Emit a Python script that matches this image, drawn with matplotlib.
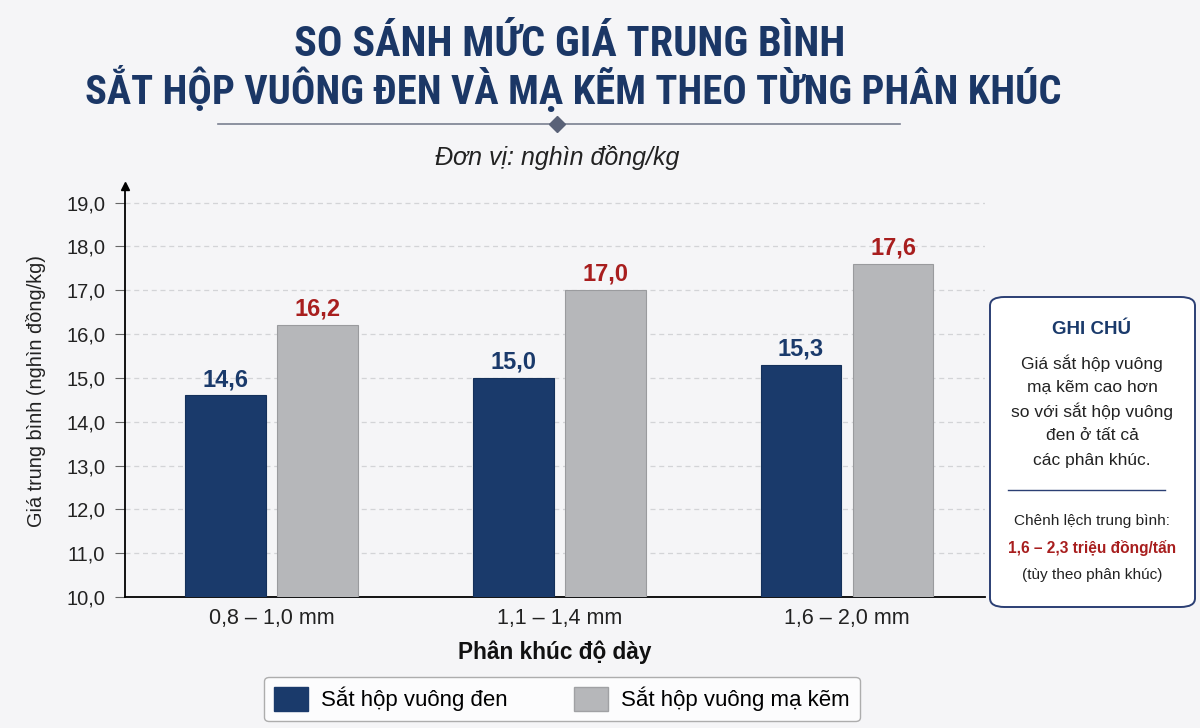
import numpy as np
import matplotlib.pyplot as plt
from matplotlib.patches import FancyBboxPatch, Patch
from matplotlib.lines import Line2D

# du lieu
categories = ['0,8 – 1,0 mm', '1,1 – 1,4 mm', '1,6 – 2,0 mm']
den_values = [14.6, 15.0, 15.3]
makem_values = [16.2, 17.0, 17.6]
yticks = [10, 11, 12, 13, 14, 15, 16, 17, 18, 19]
series_names = ['Sắt hộp vuông đen', 'Sắt hộp vuông mạ kẽm']

navy = '#1a3a6b'
grey = '#b6b7ba'
red = '#a81e1e'
bg = '#f5f5f7'

plt.rcParams['font.family'] = ['Liberation Sans', 'DejaVu Sans']
title_font = ['Roboto Condensed', 'Liberation Sans', 'DejaVu Sans']

fig = plt.figure(figsize=(12, 7.28), dpi=100, facecolor=bg)
ax = fig.add_axes([0.104, 0.18, 0.717, 0.5645], facecolor=bg)

x = np.arange(len(categories))
w = 0.28
off = 0.16
ax.bar(x - off, den_values, w, color=navy, edgecolor='#14305a', linewidth=0.8, zorder=3)
ax.bar(x + off, makem_values, w, color=grey, edgecolor='#9a9b9e', linewidth=0.8, zorder=3)

for xi, v in zip(x, den_values):
    ax.text(xi - off, v + 0.1, f'{v:.1f}'.replace('.', ','), ha='center', va='bottom',
            fontsize=17, fontweight='bold', color=navy)
for xi, v in zip(x, makem_values):
    ax.text(xi + off, v + 0.1, f'{v:.1f}'.replace('.', ','), ha='center', va='bottom',
            fontsize=17, fontweight='bold', color=red)

ax.set_xlim(-0.51, 2.48)
ax.set_ylim(10, 19.38)
ax.set_yticks(yticks)
ax.set_yticklabels([f'{t:.1f}'.replace('.', ',') for t in yticks], fontsize=14.5, color='#222222')
ax.set_xticks(x)
ax.set_xticklabels(categories, fontsize=15.5, color='#222222')
ax.tick_params(axis='x', length=0, pad=8)
ax.tick_params(axis='y', length=7, width=0.8, color='#666666', pad=7)
ax.grid(axis='y', linestyle=(0, (4, 3)), color='#d3d4d7', linewidth=0.9, zorder=0)
for s in ['top', 'right']:
    ax.spines[s].set_visible(False)
ax.spines['left'].set_linewidth(1.3)
ax.spines['bottom'].set_linewidth(1.3)
ax.plot(-0.51, 19.38, marker='^', color='black', markersize=6, clip_on=False, zorder=5)

ax.set_ylabel('Giá trung bình (nghìn đồng/kg)', fontsize=14.3, labelpad=15, color='#222222')
ax.set_xlabel('Phân khúc độ dày', fontsize=16.3, fontweight='bold', labelpad=8, color='#111111')

# tieu de
fig.text(0.475, 1 - 44 / 728, 'SO SÁNH MỨC GIÁ TRUNG BÌNH', ha='center', va='center',
         fontsize=30.5, fontweight='bold', color='#1b3766', family=title_font)
fig.text(0.478, 1 - 88 / 728, 'SẮT HỘP VUÔNG ĐEN VÀ MẠ KẼM THEO TỪNG PHÂN KHÚC', ha='center',
         va='center', fontsize=29.2, fontweight='bold', color='#1b3766', family=title_font)
fig.add_artist(Line2D([218 / 1200, 900 / 1200], [1 - 124 / 728] * 2, color='#7a8090', linewidth=1.2))
fig.add_artist(Line2D([557 / 1200], [1 - 124 / 728], marker='D', color='#5a6278', markersize=8))
fig.text(0.4645, 1 - 157 / 728, 'Đơn vị: nghìn đồng/kg', ha='center', va='center',
         fontsize=18, style='italic', color='#222222')

# hop ghi chu
box = FancyBboxPatch((990 / 1200, 1 - 607 / 728), 205 / 1200, 310 / 728,
                     boxstyle='round,pad=0,rounding_size=0.012', transform=fig.transFigure,
                     facecolor='white', edgecolor='#2b3f74', linewidth=1.4)
fig.add_artist(box)
cx = 1092 / 1200
fig.text(cx, 1 - 330 / 728, 'GHI CHÚ', ha='center', va='center', fontsize=13.5,
         fontweight='bold', color=navy)
note_lines = ['Giá sắt hộp vuông', 'mạ kẽm cao hơn', 'so với sắt hộp vuông',
              'đen ở tất cả', 'các phân khúc.']
for i, line in enumerate(note_lines):
    fig.text(cx, 1 - (363 + i * 24.3) / 728, line, ha='center', va='center', fontsize=12.5,
             color='#222222')
fig.add_artist(Line2D([1008 / 1200, 1165 / 1200], [1 - 490 / 728] * 2, color='#2b3f74', linewidth=1))
fig.text(cx, 1 - 521 / 728, 'Chênh lệch trung bình:', ha='center', va='center', fontsize=11.1,
         color='#222222')
fig.text(cx, 1 - 548 / 728, '1,6 – 2,3 triệu đồng/tấn', ha='center', va='center', fontsize=11.2,
         fontweight='bold', color=red)
fig.text(cx, 1 - 575 / 728, '(tùy theo phân khúc)', ha='center', va='center', fontsize=11.1,
         color='#222222')

# chu thich
handles = [Patch(facecolor=navy, edgecolor=navy), Patch(facecolor=grey, edgecolor='#a0a1a4')]
leg = fig.legend(handles, series_names, loc='center', bbox_to_anchor=(562 / 1200, 1 - 699 / 728),
                 ncol=2, fontsize=16, frameon=True, fancybox=True, handlelength=1.5,
                 handleheight=1.3, columnspacing=3.0, handletextpad=0.6, borderpad=0.45,
                 borderaxespad=0)
leg.get_frame().set_edgecolor('#9a9a9a')
leg.get_frame().set_facecolor('white')
leg.get_frame().set_linewidth(1)

fig.savefig('out.png', dpi=100, facecolor=bg)
